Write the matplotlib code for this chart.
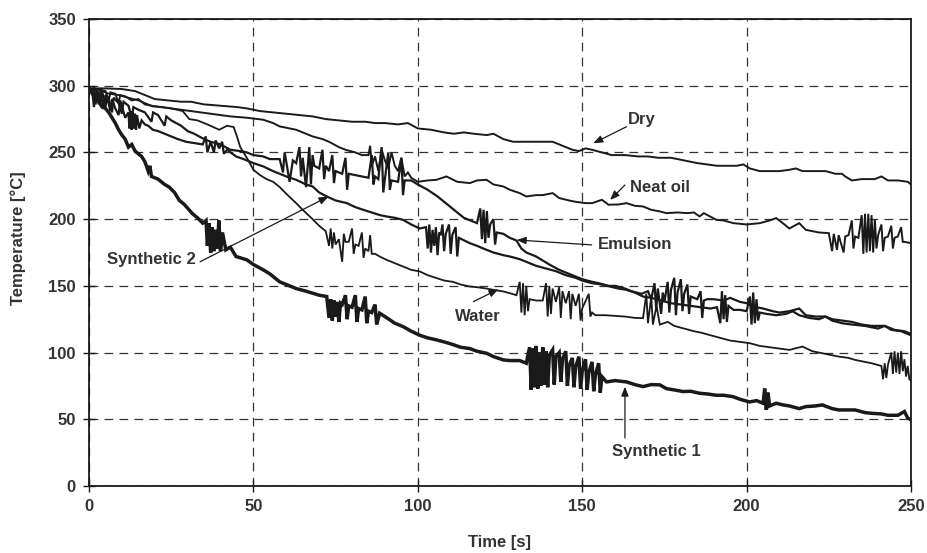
import matplotlib
matplotlib.use("Agg")
import matplotlib.pyplot as plt

plt.rcParams['font.family'] = ['Liberation Sans', 'DejaVu Sans']
plt.rcParams['font.weight'] = 'bold'

# ---- data (time [s], temperature [°C]) ----
dry = [(0, 298), (5, 298), (10, 297.5), (14, 296), (17, 293), (20, 290), (24, 289), (28, 288), (31, 288), (35, 286),
       (40, 285), (45, 284), (48, 283), (52, 281), (56, 280), (60, 279), (64, 278), (68, 277), (72, 275), (76, 274),
       (80, 273), (84, 273), (87, 272), (90, 272), (94, 271), (97, 272), (100, 268), (104, 267), (108, 265), (111, 264),
       (114, 265), (117, 264), (121, 263), (123, 264), (126, 260), (129, 258), (133, 258), (137, 258), (141, 258), (144, 255),
       (147, 252), (149, 251), (151, 253), (153, 252), (156, 250), (159, 248), (163, 248), (167, 247), (170, 247), (173, 246),
       (177, 246), (181, 244), (185, 242), (188, 241), (191, 240), (194, 240), (197, 240), (199, 241), (201, 238), (204, 236),
       (207, 236), (210, 236), (213, 237), (215, 238), (217, 236), (220, 236), (224, 236), (227, 234), (229, 234), (230, 232),
       (232, 229), (235, 230), (239, 230), (241, 232), (243, 229), (246, 229), (249, 228), (250, 226)]

neat_oil = [(0, 298), (2, 297), (3, 291), (3.5, 297), (5, 296), (6, 289), (6.5, 295), (8, 294), (9, 287), (9.5, 293),
            (11, 292), (13, 289), (15, 290), (17, 286), (19, 285), (22, 284), (25, 283), (28, 282), (31, 281), (34, 280),
            (37, 279), (40, 278), (43, 277), (48, 276), (53, 274.5), (56, 272), (58, 269.5), (61, 268), (63, 267), (66, 264),
            (68, 262), (71, 260), (73, 258), (76, 254), (78, 252), (81, 250), (83, 248), (85, 248), (85.5, 255), (86, 240),
            (87, 247), (88, 236), (89, 252), (90, 244), (91, 238), (92, 250), (93, 240), (94, 236), (95, 246), (96, 232),
            (97, 235), (98, 231), (100, 228), (103, 229), (105.7, 229.5), (108.7, 232), (112, 228), (115.8, 227), (118, 229),
            (120.9, 229.5), (123, 226), (126, 224.5), (128, 222), (131, 219.5), (133, 217), (136, 218), (138, 218),
            (141, 219.5), (143, 215.8), (146, 214), (148, 213), (151, 212), (153, 212), (156, 214.5), (158, 210.8),
            (161, 211), (163.5, 212), (166, 210), (168.5, 209.5), (171, 207), (173.6, 205.8), (175.6, 204.5), (179, 205),
            (182, 204.5), (184, 205), (185.7, 202), (187, 204.5), (190.8, 199.5), (193, 199), (196, 197), (200, 196),
            (204, 197), (207, 199), (209, 200.8), (211, 197), (213, 193), (216, 197), (218, 192), (222, 190), (225, 189.5),
            (226, 176), (226.5, 189), (227.5, 177), (228, 188), (229.5, 175), (230, 187), (231, 188), (232, 199),
            (232.5, 178), (233, 187), (234, 186), (235, 203), (235.5, 174), (236, 204), (236.5, 175), (237, 204),
            (237.5, 176), (238, 203), (238.5, 175), (239, 200), (239.5, 178), (240, 188), (241, 196), (241.5, 176),
            (242, 186), (243, 187), (244, 195), (244.5, 178), (245, 186), (246, 187), (247, 194), (247.5, 183),
            (248, 183), (250, 182)]

emulsion = [(0, 298), (1, 296), (1.5, 284), (2, 295), (3, 286), (3.5, 294), (4.5, 283), (5, 293), (6, 290), (7, 280),
            (7.5, 291), (9, 287), (10, 279), (10.5, 288), (12, 285), (13, 276), (13.5, 284), (15, 282), (17, 280),
            (19, 273), (19.5, 280), (21, 278), (23, 270), (23.5, 277), (25, 274), (28, 270), (30, 266), (32, 264),
            (35, 260), (37, 258), (40, 256), (43, 252), (46, 251), (48, 250), (50, 248), (53, 247), (55, 245), (58, 245),
            (59, 235), (59.5, 250), (60, 243), (61, 228), (62, 244), (63, 242), (64, 254), (64.5, 232), (65, 246),
            (66, 224), (67, 254), (67.5, 226), (68, 248), (68.5, 240), (70, 238), (71, 252), (71.5, 230), (72, 240),
            (73, 236), (74, 248), (74.5, 227), (75, 236), (77, 234), (78, 246), (78.5, 222), (79, 234), (81, 233),
            (83, 232), (85, 231), (86, 248), (86.5, 226), (87, 232), (88, 230), (89, 254), (89.5, 220), (90, 230),
            (91, 250), (91.5, 222), (92, 229), (94, 228), (95, 246), (95.5, 218), (96, 229), (98, 229), (100, 226),
            (103, 222), (106, 217), (109, 211), (112, 205), (114, 201), (116, 199), (118, 197), (119, 208), (119.5, 185),
            (120, 207), (120.5, 182), (121, 206), (121.5, 186), (122, 196), (123, 200), (123.5, 181), (124, 190),
            (126, 189), (128, 186), (130, 184), (131.5, 178), (133, 175), (136, 172), (138, 169), (140, 166), (143, 162),
            (145, 160), (148, 157), (150, 155), (153, 153), (155, 152), (158, 150), (160, 150), (163, 148), (165, 146),
            (168, 144), (170, 146), (171, 140), (172, 152), (172.5, 132), (173, 148), (174, 129), (174.5, 145),
            (175, 138), (176, 153), (176.5, 130), (177, 147), (178, 156), (178.5, 128), (179, 145), (180, 155),
            (180.5, 131), (181, 144), (182, 151), (182.5, 129), (183, 142), (184, 141), (185, 140), (186, 146),
            (186.5, 126), (187, 139), (188, 140), (190, 140), (193, 139), (195, 141), (198, 138), (200, 137), (203, 134),
            (205, 133), (208, 131), (210, 130), (213, 131), (216, 133), (218, 128), (221, 127), (224, 127), (226, 125),
            (229, 124), (232, 123), (235, 121), (238, 120), (242, 120), (245, 117), (248, 116), (250, 114)]

water = [(0, 298), (3, 297), (6, 294), (9, 293), (12, 291), (15, 289), (17, 287), (19.4, 284.5), (22, 284), (25, 283),
         (28.5, 281), (30.5, 275), (33, 274), (36, 271), (39.6, 267), (42, 270), (44, 269), (45, 262), (46, 254),
         (48, 246), (50, 237), (52, 233), (54, 230), (56, 228), (58, 224), (60, 219), (63, 212), (65, 207), (68, 200),
         (70, 195), (72, 191), (73, 180), (73.5, 193), (74, 178), (74.5, 190), (75, 181), (76, 185), (77, 168),
         (77.5, 189), (78, 183), (79, 183), (80, 193), (80.5, 174), (81, 181), (82, 180), (83, 190), (83.5, 171),
         (84, 178), (85, 176), (85.5, 188), (86, 174), (87, 174), (88.4, 172), (90.5, 169.5), (93, 167), (95.5, 164.5),
         (98, 162), (100.6, 160.8), (103, 158), (105.7, 155.8), (108, 154), (110.7, 153), (113, 151), (115.8, 149.5),
         (118, 149), (120.9, 148), (123, 147), (126, 145.8), (128, 144.5), (130, 143), (131, 153), (131.5, 130),
         (132, 152), (132.5, 128), (133, 150), (133.5, 131), (134, 140), (136, 139), (138, 139), (139, 152),
         (139.5, 127), (140, 150), (140.5, 129), (141, 148), (142, 138), (143, 149), (143.5, 126), (144, 146),
         (145, 137), (146, 146), (146.5, 125), (147, 144), (148, 135), (149, 144), (149.5, 124), (150, 133),
         (152, 144), (152.5, 127), (153, 130), (154, 128), (157, 128), (160, 127.5), (163, 127), (166, 126),
         (168.5, 125.8), (169.5, 144), (170, 122), (171, 142), (171.5, 121), (172.6, 135), (173.6, 121), (176, 123),
         (178, 120), (181, 118), (184, 116), (186, 115), (189, 113), (192, 111), (195, 109), (198, 108), (201, 107),
         (204, 105), (207, 104), (210, 103), (213, 102), (217, 104.5), (220, 101), (223, 99.5), (226, 98), (228, 97),
         (231, 96), (233, 94.5), (236, 93), (238, 92), (241, 90), (241.5, 80), (242, 92), (242.5, 81), (243, 91),
         (244, 100), (244.5, 84), (245, 101), (245.5, 85), (246, 100), (246.5, 84), (247, 101), (247.5, 86), (248, 95),
         (248.5, 82), (249, 90), (249.5, 80), (250, 79)]

synthetic_2 = [(0, 298), (1, 293), (1.5, 299), (2, 286), (2.5, 297), (3.5, 288), (4, 296), (5, 284), (5.5, 292),
               (6.5, 281), (7, 290), (8, 283), (9, 278), (9.5, 289), (11, 276), (12, 280), (12.3, 268), (12.6, 281),
               (13, 267), (13.3, 280), (13.6, 268), (14, 279), (14.3, 267), (14.6, 278), (15.3, 268), (16, 274),
               (17, 271), (18, 270), (19.4, 267), (21, 266), (23, 264), (25, 262), (27, 260), (29.5, 258), (32, 257),
               (34.6, 256), (35.5, 262), (36, 250), (37, 258), (38, 250), (38.5, 259), (39.6, 253), (40.5, 258),
               (41, 249), (42, 252), (44.7, 247), (47, 245), (50, 242), (53, 239.5), (56, 236), (58, 234), (60, 232),
               (63, 229.5), (66, 226), (68, 224.5), (70, 220), (72.3, 217), (75, 214), (78.4, 212), (81, 209),
               (83.4, 207), (86, 205), (88.5, 203), (90.5, 202), (93, 201), (95.5, 199.5), (98, 196), (100.6, 193),
               (102.5, 194), (103, 178), (103.5, 196), (104, 175), (104.5, 192), (105, 180), (105.5, 194), (106, 173),
               (106.5, 190), (107, 188), (107.5, 196), (108, 176), (108.5, 189), (109.5, 196), (110, 174), (110.5, 188),
               (111.5, 194), (112, 172), (112.5, 186), (115.8, 182), (118, 180), (120.9, 177), (123, 175), (126, 173),
               (128, 172), (131, 170), (133, 168), (136, 165), (139, 163), (142, 161), (145, 158), (148, 156),
               (150, 154), (153, 152), (156, 151), (158.4, 149.5), (161, 148), (163.5, 147), (166, 145), (168.5, 142),
               (171, 141), (174, 139), (177, 137), (180, 136), (183, 135), (186, 134), (189, 133), (191, 134),
               (192, 122), (192.5, 146), (193, 125), (193.5, 143), (194, 123), (194.5, 135), (196, 132), (198, 132),
               (200, 131), (201, 142), (201.5, 121), (202, 145), (202.5, 122), (203, 140), (203.5, 124), (204, 130),
               (206, 129), (209, 128), (212, 129), (214, 131), (216, 128), (219, 126), (222, 125), (224, 127),
               (226, 124), (229, 122), (232, 121), (236, 120), (240, 118), (242, 120), (244, 117), (247, 116), (250, 113)]

synthetic_1 = [(0, 298), (1, 296), (2, 292), (3, 288), (4, 284), (5, 283), (6, 280), (7, 276), (8, 272), (9, 267),
               (10, 263), (11, 260), (12, 254), (13, 256), (14, 251), (15, 249), (16, 247), (17, 243), (18, 236),
               (18.5, 240), (19, 232), (20, 231), (21, 230), (22, 228), (23, 226), (24.4, 224), (26, 220), (27.5, 214),
               (29, 211), (31.5, 204), (33, 201), (34.6, 197), (35.6, 199), (36, 180), (36.5, 197), (37, 175),
               (37.5, 194), (38, 176), (38.5, 192), (39, 178), (39.5, 199), (40, 176), (40.6, 190), (41.6, 177),
               (43, 179), (44.7, 172), (46, 171), (48, 169.5), (50, 166), (53, 162), (55, 159), (56, 157), (58, 153),
               (60, 151), (63, 148), (66, 146), (68, 144.5), (70, 143), (72.3, 142), (73, 126), (73.5, 140), (74, 124),
               (74.5, 139), (75, 127), (75.5, 138), (76, 123), (76.5, 137), (77, 136), (78, 143), (78.5, 125), (79, 135),
               (80, 134), (81, 143), (81.5, 123), (82, 133), (83, 132), (84, 142), (84.5, 122), (85, 131), (86, 130),
               (87, 136), (87.5, 121), (88.4, 129.5), (90, 127), (91.5, 124.5), (93, 122), (95.5, 119.5), (98, 116),
               (100.6, 113), (103, 111), (105.7, 109.5), (108, 108), (110.7, 106), (113, 104), (115.8, 103), (118, 101),
               (120.9, 99.5), (123, 97), (126, 94.5), (128, 94), (131, 94), (133, 92), (134, 104), (134.5, 72),
               (135, 103), (135.5, 74), (136, 105), (136.5, 73), (137, 100), (137.5, 75), (138, 104), (138.5, 76),
               (139, 101), (139.5, 74), (140, 98), (141, 102), (141.5, 76), (142, 97), (143, 100), (143.5, 78),
               (144, 95), (145, 101), (145.5, 75), (146, 90), (147, 96), (147.5, 74), (148, 89), (149, 97), (149.5, 73),
               (150, 86), (151, 95), (151.5, 72), (152, 85), (153, 93), (153.5, 71), (154, 83), (155, 92), (155.5, 70),
               (156, 82), (157.4, 78), (160, 79), (163.5, 78), (166, 76), (168.5, 74.5), (171, 76), (173.6, 75.8),
               (175.6, 73), (178, 72), (180.6, 70.8), (183, 71), (185.7, 69.5), (188, 69), (190.8, 68), (193, 68),
               (195.8, 67), (198, 65), (200.9, 63), (203, 64), (205, 62), (205.5, 73), (206, 57), (206.5, 70), (207, 60),
               (209, 62), (211, 60.8), (213, 60), (216, 58), (218, 59.5), (221, 60), (223, 60.8), (226, 58), (228, 57),
               (231, 57), (233, 57), (236, 55), (238, 54.5), (241, 54), (243, 53), (246, 53), (248, 55.8), (249, 51),
               (250, 49.5)]

x_ticks = [0, 50, 100, 150, 200, 250]
y_ticks = [0, 50, 100, 150, 200, 250, 300, 350]

# label text, text anchor (t, T), arrow start (t, T), arrow tip (t, T)
labels = ["Dry", "Neat oil", "Emulsion", "Water", "Synthetic 2", "Synthetic 1"]
label_pos = [(164.0, 274.4), (164.6, 223.8), (154.7, 180.7), (118.2, 126.9), (5.5, 169.4), (159.0, 25.5)]
label_ha = ["left", "left", "left", "center", "left", "left"]
arrow_from = [(163.5, 269.3), (163.0, 225.6), (152.9, 180.7), (116.9, 138.2), (33.8, 168.1), (163.0, 36.0)]
arrow_to = [(153.4, 256.9), (158.5, 214.4), (130.1, 184.4), (124.5, 147.4), (72.8, 216.9), (163.0, 74.4)]

# ---- figure ----
ink = "#1a1a1a"
txt = "#333333"
fig = plt.figure(figsize=(9.28, 5.53), dpi=100)
ax = fig.add_axes([89 / 928, 1 - 486 / 553, (911 - 89) / 928, (486 - 19) / 553])

series = [(dry, 1.4), (neat_oil, 1.4), (emulsion, 1.6), (water, 1.3), (synthetic_2, 1.6), (synthetic_1, 2.5)]
for pts, lw in series:
    t = [p[0] for p in pts]
    T = [p[1] for p in pts]
    ax.plot(t, T, color=ink, lw=lw, solid_joinstyle="miter", zorder=3)

ax.set_xlim(0, 250)
ax.set_ylim(0, 350)
ax.set_xticks(x_ticks)
ax.set_yticks(y_ticks)
ax.grid(True, color="#333333", lw=0.9, ls=(0, (7, 5)), zorder=1)
ax.tick_params(direction="inout", length=9, width=1.0, colors=ink, labelcolor=txt, labelsize=12, pad=5)
for lab in ax.get_xticklabels() + ax.get_yticklabels():
    lab.set_fontweight("bold")
for sp in ax.spines.values():
    sp.set_linewidth(1.3)
    sp.set_color(ink)
    sp.set_zorder(4)

for s, pos, ha, a0, a1 in zip(labels, label_pos, label_ha, arrow_from, arrow_to):
    ax.text(pos[0], pos[1], s, ha=ha, va="center", fontsize=12, fontweight="bold", color=txt, zorder=5)
    ax.annotate("", xy=a1, xytext=a0,
                arrowprops=dict(arrowstyle="-|>,head_length=0.55,head_width=0.22", lw=0.9, color=ink,
                                shrinkA=0, shrinkB=0), zorder=5)

fig.text(18 / 928, 1 - 238 / 553, "Temperature [°C]", rotation=90, ha="center", va="center",
         fontsize=12, fontweight="bold", color=txt)
fig.text(500 / 928, 1 - 542 / 553, "Time [s]", ha="center", va="center",
         fontsize=12, fontweight="bold", color=txt)

fig.savefig("out.png", dpi=100)
